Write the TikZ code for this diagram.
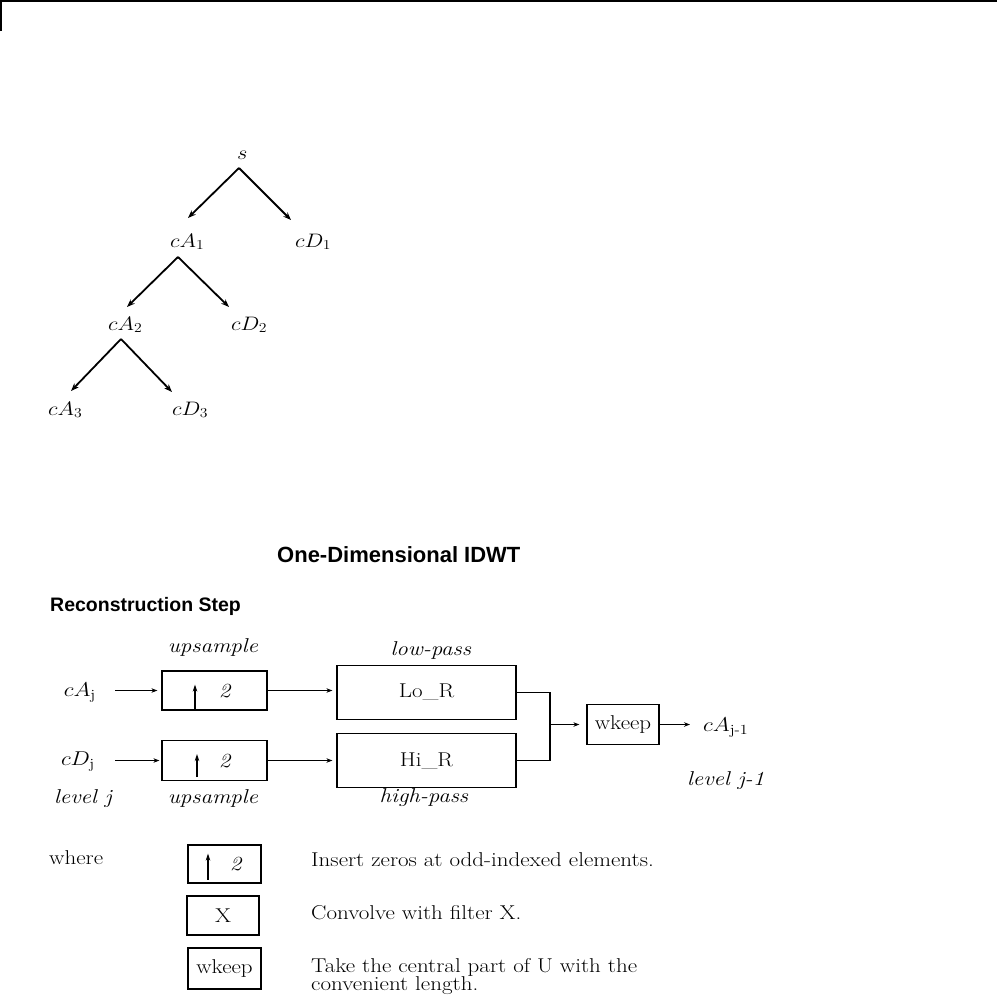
\RequirePackage{fix-cm}
\documentclass[tikz,border=0pt]{standalone}
\usepackage{amsmath}
\usepackage{graphicx}
\usepackage{fontspec}
\newfontfamily\titlefont{Liberation Sans}
\usetikzlibrary{arrows.meta}
\newcommand\wtxt[1]{\scalebox{1.15}[1]{#1}}
\tikzset{
  lbl/.style={font=\fontsize{20}{22}\selectfont, inner sep=0pt},
  tlbl/.style={font=\fontsize{19.5}{21}\selectfont, inner sep=0pt},
  box/.style={draw, line width=1.2pt, inner sep=0pt, font=\fontsize{20}{22}\selectfont},
  tarr/.style={line width=1.8pt, -{Stealth[length=8pt,width=6pt]}},
  arr/.style={line width=1.2pt, -{Stealth[length=6pt,width=4.5pt]}},
  uarr/.style={line width=1.2pt, -{Stealth[length=7pt,width=4.5pt]}},
  conn/.style={line width=1.2pt},
}
\begin{document}
\begin{tikzpicture}[x=1pt,y=-1pt]
\useasboundingbox (0,0) rectangle (997,1007);
% frame corner
\draw[line width=1.5pt] (0.75,31) -- (0.75,0.75) -- (997,0.75);

% ---------- tree ----------
\node[tlbl, anchor=base west] (s)   at (237,159) {\wtxt{$s$}};
\node[tlbl, anchor=base west] (cA1) at (170,247) {\wtxt{$cA_1$}};
\node[tlbl, anchor=base west] (cD1) at (295,247) {\wtxt{$cD_1$}};
\node[tlbl, anchor=base west] (cA2) at (108,330) {\wtxt{$cA_2$}};
\node[tlbl, anchor=base west] (cD2) at (231,330) {\wtxt{$cD_2$}};
\node[tlbl, anchor=base west] (cA3) at (48,415)  {\wtxt{$cA_3$}};
\node[tlbl, anchor=base west] (cD3) at (172,415) {\wtxt{$cD_3$}};
\coordinate (f1) at (239,168);
\coordinate (e1a) at (188,218);
\coordinate (e1b) at (291,220);
\coordinate (f2) at (178,257);
\coordinate (e2a) at (127,307);
\coordinate (e2b) at (229,307);
\coordinate (f3) at (121,339);
\coordinate (e3a) at (71,391);
\coordinate (e3b) at (172,392);
\draw[tarr] (f1) -- (e1a);
\draw[tarr] (f1) -- (e1b);
\draw[tarr] (f2) -- (e2a);
\draw[tarr] (f2) -- (e2b);
\draw[tarr] (f3) -- (e3a);
\draw[tarr] (f3) -- (e3b);

% ---------- titles ----------
\node[anchor=base west, inner sep=0pt, font=\titlefont\bfseries\fontsize{22}{24}\selectfont] (title) at (277,562) {One-Dimensional IDWT};
\node[anchor=base west, inner sep=0pt, font=\titlefont\bfseries\fontsize{19.5}{22}\selectfont] (step) at (50,611) {Reconstruction Step};

% ---------- block diagram ----------
\node[box, minimum width=105pt, minimum height=39pt] (up1) at (214.5,690.5) {};
\node[box, minimum width=105pt, minimum height=40pt] (up2) at (214.5,760.5) {};
\node[box, minimum width=179pt, minimum height=54pt] (lo) at (426.5,692.5) {\wtxt{Lo\_R}};
\node[box, minimum width=179pt, minimum height=54pt] (hi) at (426.5,760.5) {\wtxt{Hi\_R}};
\node[box, minimum width=72pt, minimum height=40pt] (wk) at (623,724.5) {\wtxt{wkeep}};

\node[lbl, anchor=base] (u1n) at (225,697) {\wtxt{\textit{2}}};
\node[lbl, anchor=base] (u2n) at (225,767) {\wtxt{\textit{2}}};
\draw[uarr] ([xshift=-19.5pt]up1.south) -- ++(0,-26);
\draw[uarr] ([xshift=-17.5pt,yshift=4pt]up2.south) -- ++(0,-23);

\node[lbl, anchor=base east] (cAj) at (96,696) {\wtxt{$cA_{\mathrm{j}}$}};
\node[lbl, anchor=base east] (cDj) at (95,765) {\wtxt{$cD_{\mathrm{j}}$}};
\node[lbl, anchor=base west] (cAjm) at (703,731) {\wtxt{$cA_{\text{j-1}}$}};

\node[lbl, anchor=base] (ups1) at (213,652) {\wtxt{\textit{upsample}}};
\node[lbl, anchor=base] (ups2) at (213,803) {\wtxt{\textit{upsample}}};
\node[lbl, anchor=base] (lowp) at (431,655) {\wtxt{\textit{low-pass}}};
\node[lbl, anchor=base] (highp) at (424,802) {\wtxt{\textit{high-pass}}};
\node[lbl, anchor=base west] (levj) at (54,803) {\wtxt{\textit{level j}}};
\node[lbl, anchor=base west] (levjm) at (687,785) {\wtxt{\textit{level j-1}}};

\draw[arr, shorten <=19pt, shorten >=4pt] (cAj.east |- up1.west) -- (up1.west);
\draw[arr, shorten <=20pt, shorten >=2pt] (cDj.east |- up2.west) -- (up2.west);
\draw[arr, shorten >=4pt] (up1.east) -- (up1.east -| lo.west);
\draw[arr, shorten >=4pt] (up2.east) -- (up2.east -| hi.west);
\coordinate (mg) at (550,724.5);
\draw[conn] (lo.east) -| (mg);
\draw[conn] (hi.east) -| (mg);
\draw[arr, shorten >=7pt] (mg) -- (wk.west);
\draw[arr, shorten >=13pt] (wk.east) -- (wk.east -| cAjm.west);

% ---------- legend ----------
\node[lbl, anchor=base west] (where) at (49,864) {\wtxt{where}};
\node[box, minimum width=73pt, minimum height=38pt] (lg1) at (224.5,864) {};
\draw[uarr] ([xshift=-16.5pt,yshift=4pt]lg1.south) -- ++(0,-26);
\node[lbl, anchor=base] (lg1n) at (236,870) {\wtxt{\textit{2}}};
\node[box, minimum width=72pt, minimum height=39pt] (lgX) at (223,915.5) {\wtxt{X}};
\node[box, minimum width=73pt, minimum height=41pt] (lgW) at (224.5,968.5) {\wtxt{wkeep}};

\node[lbl, anchor=base west] (d1) at (311,866) {\wtxt{Insert zeros at odd-indexed elements.}};
\node[lbl, anchor=base west] (d2) at (311,919) {\wtxt{Convolve with filter X.}};
\node[lbl, anchor=base west] (d3a) at (311,972) {\wtxt{Take the central part of U with the}};
\node[lbl, anchor=base west] (d3b) at (311,990) {\wtxt{convenient length.}};
\end{tikzpicture}
\end{document}
